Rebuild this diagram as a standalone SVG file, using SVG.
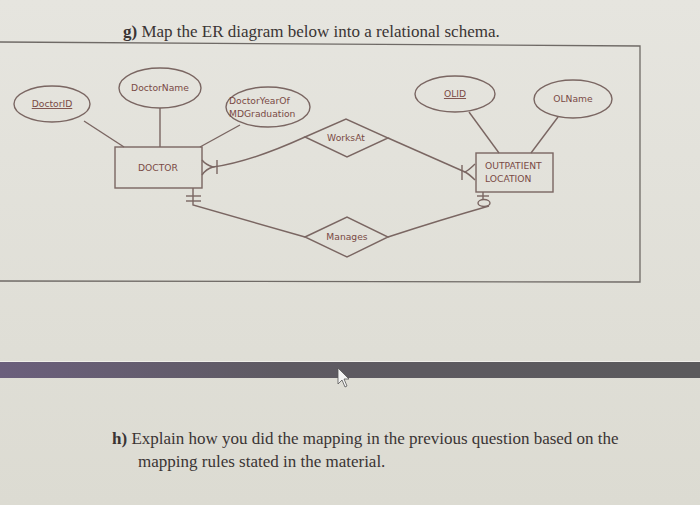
<svg xmlns="http://www.w3.org/2000/svg" width="700" height="505" viewBox="0 0 700 505">
<defs>
<linearGradient id="bg" x1="0" y1="0" x2="0" y2="1">
<stop offset="0" stop-color="#e6e5df"/>
<stop offset="1" stop-color="#dcdbd2"/>
</linearGradient>
<linearGradient id="bar" x1="0" y1="0" x2="1" y2="0">
<stop offset="0" stop-color="#6b5f7c"/>
<stop offset="0.4" stop-color="#5e5a62"/>
<stop offset="1" stop-color="#5b5a5c"/>
</linearGradient>
<style>
.frame{fill:none;stroke:#6f6a66;stroke-width:1.3}
.ln{fill:none;stroke:#7a6662;stroke-width:1.4}
.shp{fill:none;stroke:#7a6662;stroke-width:1.4}
.lbl{font-family:"DejaVu Sans",Verdana,sans-serif;font-size:9.2px;fill:#7a4a45}
.q{font-family:"Liberation Serif","Times New Roman",serif;font-size:17px;fill:#3a3434}
</style>
</defs>
<rect width="700" height="505" fill="url(#bg)"/>
<text class="q" x="123" y="37"><tspan font-weight="bold">g)</tspan> Map the ER diagram below into a relational schema.</text>
<polyline class="frame" points="0,42 640,46 640,282 0,281"/>
<g id="DoctorID"><ellipse class="shp" cx="52" cy="104" rx="38" ry="18"/><text class="lbl" x="52" y="107" text-anchor="middle" text-decoration="underline">DoctorID</text></g>
<g id="DoctorName"><ellipse class="shp" cx="160" cy="88" rx="41" ry="20"/><text class="lbl" x="160" y="91" text-anchor="middle">DoctorName</text></g>
<g id="DoctorYear"><ellipse class="shp" cx="268" cy="107" rx="42" ry="20"/><text class="lbl" x="229" y="104">DoctorYearOf</text><text class="lbl" x="229" y="117">MDGraduation</text></g>
<g id="OLID"><ellipse class="shp" cx="455" cy="94" rx="40" ry="18"/><text class="lbl" x="455" y="97" text-anchor="middle" text-decoration="underline">OLID</text></g>
<g id="OLName"><ellipse class="shp" cx="573" cy="99" rx="39" ry="19"/><text class="lbl" x="573" y="102" text-anchor="middle">OLName</text></g>
<g id="DOCTOR"><rect class="shp" x="115" y="147" width="87" height="41"/><text class="lbl" x="158" y="171" text-anchor="middle">DOCTOR</text></g>
<g id="OUTPATIENT_LOCATION"><rect class="shp" x="476" y="153" width="77" height="39"/><text class="lbl" x="485" y="169">OUTPATIENT</text><text class="lbl" x="485" y="182">LOCATION</text></g>
<g id="WorksAt"><polygon class="shp" points="305,137 346,119 388,138 347,157"/><text class="lbl" x="346" y="141" text-anchor="middle">WorksAt</text></g>
<g id="Manages"><polygon class="shp" points="305,237 347,217 388,237 347,257"/><text class="lbl" x="347" y="240" text-anchor="middle">Manages</text></g>
<g id="connectors">
<line class="ln" x1="84" y1="121" x2="124" y2="147"/>
<line class="ln" x1="160" y1="108" x2="160" y2="147"/>
<line class="ln" x1="240" y1="125" x2="200" y2="147"/>
<line class="ln" x1="469" y1="112" x2="499" y2="153"/>
<line class="ln" x1="558" y1="117" x2="531" y2="153"/>
<path class="ln" d="M213,167 Q250,162 305,137"/>
<path class="ln" d="M202,160 Q206,165 213,167 Q206,169 202,175"/>
<line class="ln" x1="217" y1="160" x2="217" y2="174"/>
<path class="ln" d="M388,138 L465,172"/>
<path class="ln" d="M475,164 Q469,170 465,172 Q469,174 475,180"/>
<line class="ln" x1="462" y1="165" x2="462" y2="180"/>
<path class="ln" d="M193,188 L193,205 L305,237"/>
<line class="ln" x1="186" y1="196" x2="201" y2="196"/>
<line class="ln" x1="186" y1="201" x2="201" y2="201"/>
<path class="ln" d="M483,192 L483,200"/>
<line class="ln" x1="477" y1="196" x2="489" y2="196"/>
<ellipse class="ln" cx="484" cy="203" rx="6" ry="3.5"/>
<path class="ln" d="M489,206 Q440,220 388,237"/>
</g>
<rect x="0" y="362" width="700" height="16" fill="url(#bar)"/>
<line x1="0" y1="361.5" x2="700" y2="361.5" stroke="#f0efea" stroke-width="1"/>
<polygon points="338,368 338,384 342,380 345,387 347,386 344,379 349,379" fill="#f4f4f4" stroke="#555" stroke-width="0.8"/>
<text class="q" x="112" y="444"><tspan font-weight="bold">h)</tspan> Explain how you did the mapping in the previous question based on the</text>
<text class="q" x="138" y="467">mapping rules stated in the material.</text>
</svg>
